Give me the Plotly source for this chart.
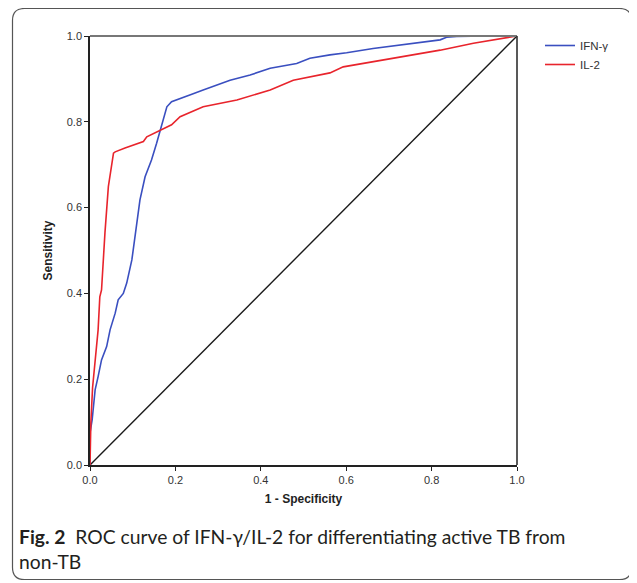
import plotly.graph_objects as go

# ---- data ----
ifn_fpr = [0.0, 0.0, 0.005, 0.012, 0.019, 0.027, 0.039, 0.047, 0.059, 0.066, 0.078, 0.086,
           0.098, 0.109, 0.117, 0.129, 0.144, 0.156, 0.168, 0.180, 0.191, 0.211, 0.240,
           0.265, 0.300, 0.328, 0.375, 0.422, 0.484, 0.515, 0.562, 0.601, 0.663, 0.742,
           0.820, 0.835, 0.859, 0.930, 1.0]
ifn_tpr = [0.0, 0.075, 0.105, 0.175, 0.206, 0.245, 0.276, 0.315, 0.354, 0.385, 0.400, 0.424,
           0.478, 0.555, 0.618, 0.672, 0.711, 0.750, 0.796, 0.835, 0.847, 0.855, 0.865,
           0.874, 0.886, 0.897, 0.909, 0.925, 0.936, 0.948, 0.956, 0.961, 0.971, 0.981,
           0.991, 0.997, 0.999, 1.0, 1.0]

il2_fpr = [0.0, 0.002, 0.006, 0.012, 0.019, 0.023, 0.027, 0.035, 0.043, 0.055, 0.059, 0.082,
           0.105, 0.125, 0.133, 0.168, 0.191, 0.211, 0.265, 0.344, 0.422, 0.476, 0.515,
           0.562, 0.593, 0.663, 0.742, 0.820, 0.898, 0.937, 1.0]
il2_tpr = [0.0, 0.098, 0.18, 0.238, 0.315, 0.392, 0.408, 0.541, 0.649, 0.727, 0.730, 0.739,
           0.748, 0.754, 0.765, 0.781, 0.793, 0.812, 0.835, 0.851, 0.874, 0.897, 0.905,
           0.914, 0.928, 0.940, 0.952, 0.967, 0.983, 0.990, 1.0]

ref_x = [0.0, 1.0]
ref_y = [0.0, 1.0]

series_names = ["IFN-γ", "IL-2"]
tick_vals = [0.0, 0.2, 0.4, 0.6, 0.8, 1.0]
tick_text = ["0.0", "0.2", "0.4", "0.6", "0.8", "1.0"]

# ---- layout geometry (page has an 8px body margin) ----
OFF = 8
W, H = 637 - OFF, 583 - OFF
ML, MR, MT, MB = 90 - OFF, 120, 36 - OFF, 118
PW, PH = W - ML - MR, H - MT - MB


def px(x):
    return (x - OFF - ML) / PW


def py(y):
    return (H - MB - (y - OFF)) / PH


fig = go.Figure()
fig.add_trace(go.Scatter(x=ref_x, y=ref_y, mode="lines", showlegend=False,
                         line=dict(color="#1a1a1a", width=1.4), hoverinfo="skip"))
fig.add_trace(go.Scatter(x=ifn_fpr, y=ifn_tpr, mode="lines", name=series_names[0],
                         line=dict(color="#3a4fc0", width=1.6)))
fig.add_trace(go.Scatter(x=il2_fpr, y=il2_tpr, mode="lines", name=series_names[1],
                         line=dict(color="#e8242c", width=1.6)))

axis_common = dict(range=[0, 1], tickvals=tick_vals, ticktext=tick_text,
                   showgrid=False, zeroline=False, showline=True, linecolor="#222",
                   linewidth=1.5, ticks="outside", ticklen=4, tickcolor="#222",
                   tickfont=dict(family="Liberation Sans, Arial", size=11, color="#333"))

fig.update_layout(
    width=W, height=H,
    margin=dict(l=ML, r=MR, t=MT, b=MB, pad=0),
    paper_bgcolor="white", plot_bgcolor="white",
    font=dict(family="Liberation Sans, Arial", color="#222"),
    xaxis=dict(**axis_common,
               title=dict(text="<b>1 - Specificity</b>", standoff=10,
                          font=dict(family="Liberation Sans, Arial", size=12, color="#222"))),
    yaxis=dict(**axis_common,
               title=dict(text="<b>Sensitivity</b>", standoff=12,
                          font=dict(family="Liberation Sans, Arial", size=12, color="#222"))),
    legend=dict(x=px(540), y=py(31), xanchor="left", yanchor="top",
                bgcolor="rgba(0,0,0,0)", itemwidth=30, tracegroupgap=0,
                font=dict(family="Liberation Sans, Arial", size=11.5, color="#333")),
    showlegend=True,
)

# frame top and right
fig.add_shape(type="line", xref="paper", yref="paper", x0=0, x1=1, y0=1, y1=1,
              line=dict(color="#777", width=2))
fig.add_shape(type="line", xref="paper", yref="paper", x0=1, x1=1, y0=0, y1=1,
              line=dict(color="#222", width=1.5))

# outer rounded box
x0, y0, x1, y1, r = 12.5, 8.5, 631.5, 579.5, 12


def pt(x, y):
    return f"{px(x):.5f},{py(y):.5f}"


path = (f"M {pt(x0 + r, y0)} L {pt(x1 - r, y0)} Q {pt(x1, y0)} {pt(x1, y0 + r)} "
        f"L {pt(x1, y1 - r)} Q {pt(x1, y1)} {pt(x1 - r, y1)} "
        f"L {pt(x0 + r, y1)} Q {pt(x0, y1)} {pt(x0, y1 - r)} "
        f"L {pt(x0, y0 + r)} Q {pt(x0, y0)} {pt(x0 + r, y0)} Z")
fig.add_shape(type="path", xref="paper", yref="paper", path=path,
              line=dict(color="#555", width=1.2), layer="below")

cap_font = dict(family="Lato, sans-serif", size=19.3, color="#231f20")
fig.add_annotation(xref="paper", yref="paper", x=px(17), y=py(536), xanchor="left",
                   yanchor="middle", showarrow=False, align="left", font=cap_font,
                   text="<b>Fig. 2</b>  ROC curve of IFN-γ/IL-2 for differentiating active TB from")
fig.add_annotation(xref="paper", yref="paper", x=px(17), y=py(561), xanchor="left",
                   yanchor="middle", showarrow=False, align="left", font=cap_font,
                   text="non-TB")

fig.write_html("out.html")
